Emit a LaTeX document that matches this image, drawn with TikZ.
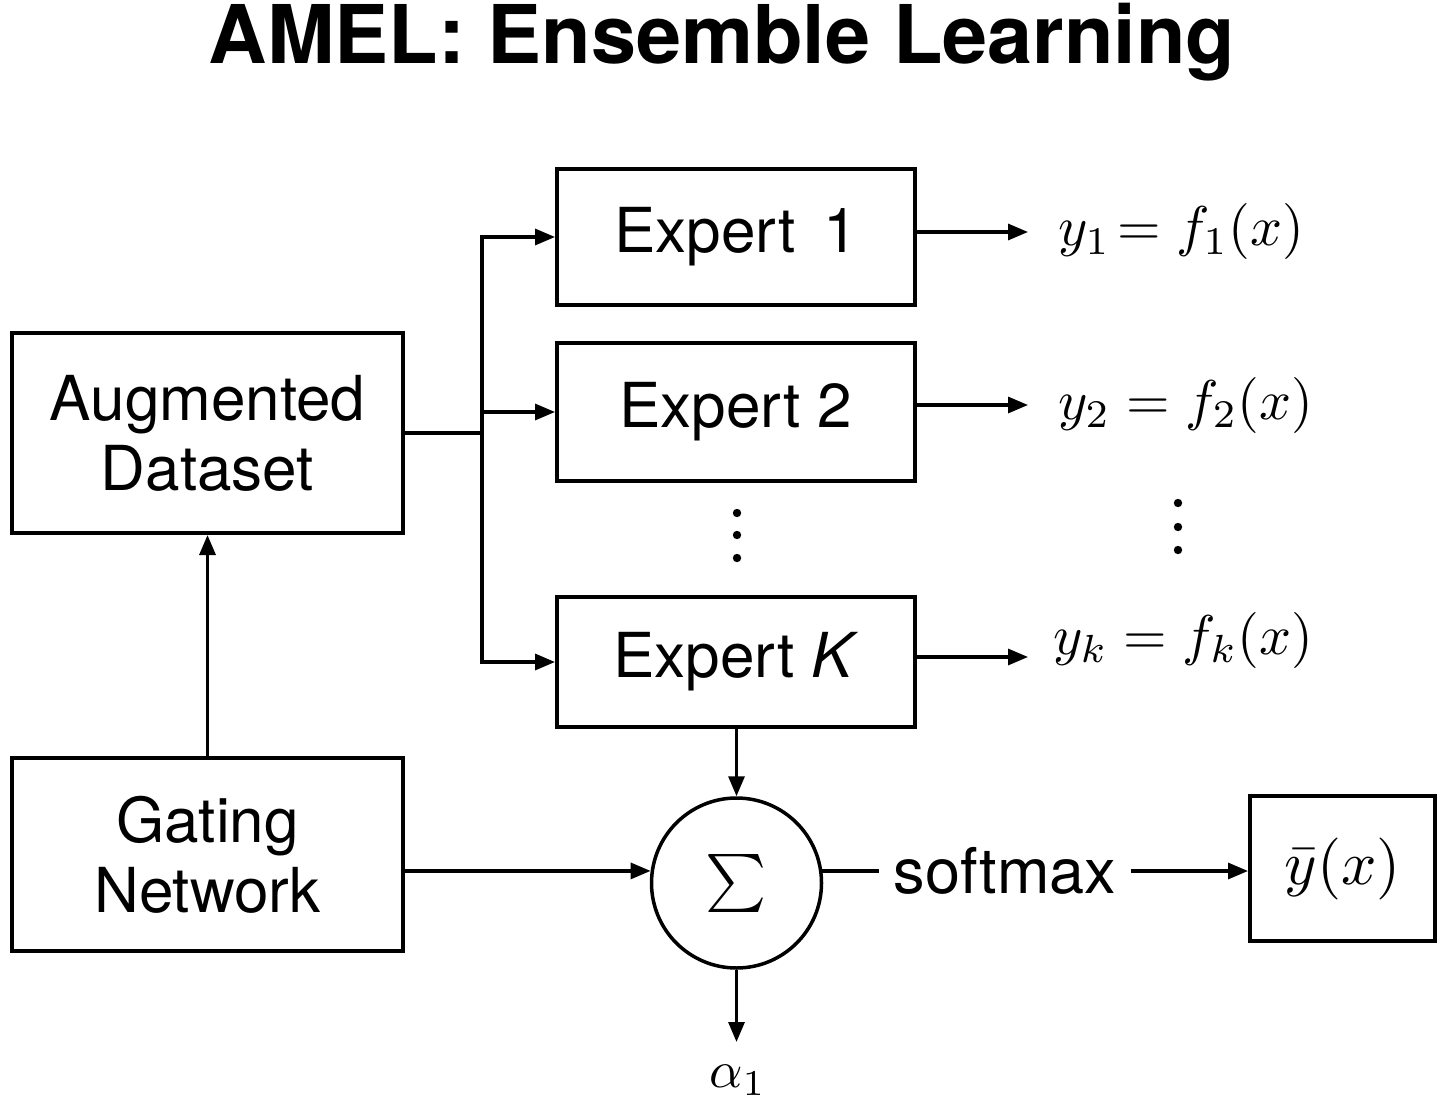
\documentclass[tikz,border=0pt]{standalone}
\usepackage[no-math]{fontspec}
\setmainfont{TeX Gyre Heros}
\usetikzlibrary{arrows.meta}
\newcommand{\mbig}[2]{\scalebox{#1}{$#2$}}
\begin{document}
\begin{tikzpicture}[x=1pt,y=-1pt,
  box/.style={draw, line width=4pt, inner sep=0pt, align=center,
    font=\fontsize{62}{70}\selectfont},
  arr/.style={line width=3.2pt, -{Triangle[length=20pt,width=16pt]}},
  ln/.style={line width=3.2pt},
  mlabel/.style={inner sep=0pt, font=\normalsize},
  dotm/.style={fill=black, draw=none}]
\useasboundingbox (0,0) rectangle (1447,1107);
\node[font=\fontsize{81}{90}\selectfont\bfseries] (title) at (722,42) {AMEL: Ensemble Learning};
\node[box, minimum width=391pt, minimum height=200pt] (aug) at (207.5,433) {Augmented\\Dataset};
\node[box, minimum width=391pt, minimum height=193pt] (gate) at (207.5,854.5) {Gating\\Network};
\node[box, minimum width=358pt, minimum height=136pt] (e1) at (736,237) {Expert\hspace{0.45em}1};
\node[box, minimum width=358pt, minimum height=138pt] (e2) at (736,412) {Expert 2};
\node[box, minimum width=358pt, minimum height=130pt] (eK) at (736,662) {Expert \textit{K}};
\node[draw, circle, line width=3.5pt, minimum size=170pt, inner sep=0pt, font=\normalsize] (sig) at (736.5,883) {\mbig{5.8}{\textstyle\sum}};
\node[box, minimum width=185pt, minimum height=145pt, font=\normalsize] (yb) at (1342.5,868.5)
  {\mbig{6.2}{\bar y(x)}};
\node[inner sep=15pt, font=\fontsize{63}{70}\selectfont] (sm) at (1005,871) {softmax};
\node[mlabel, anchor=west] (l1) at (1058,232) {\mbig{5.6}{y_1\!=f_1(x)}};
\node[mlabel, anchor=west] (l2) at (1058,405) {\mbig{5.6}{y_2=f_2(x)}};
\node[mlabel, anchor=west] (lk) at (1053,640) {\mbig{5.6}{y_k=f_k(x)}};
\node[mlabel] (al) at (738,1080) {\mbig{5.2}{\alpha_1}};
\coordinate (br) at (482,433);
\coordinate (o1) at (1028,232);
\coordinate (o2) at (1028,405);
\coordinate (ok) at (1028,657);
\coordinate (a1) at (736.5,1042);
% connectors
\draw[ln] (aug.east |- br) -- (br);
\draw[arr] (br) |- (e1.west);
\draw[arr] (br) |- (e2.west);
\draw[arr] (br) |- (eK.west);
\draw[arr] (e1.east |- o1) -- (o1);
\draw[arr] (e2.east |- o2) -- (o2);
\draw[arr] (eK.east |- ok) -- (ok);
\draw[arr] (gate.north) -- (aug.south);
\draw[arr] (eK.south -| sig.north) -- (sig.north);
\draw[arr] (gate.east |- sig.172) -- (sig.172);
\draw[ln] (sig.8) -- (sig.8 -| sm.west);
\draw[arr] (sm.east) -- (yb.west |- sm.east);
\draw[arr] (sig.south) -- (a1);
% dots
\foreach \yy in {513,535,558} \fill[dotm] (737,\yy) circle (4.2pt);
\foreach \yy in {503,527,550} \fill[dotm] (1178,\yy) circle (4.2pt);
\end{tikzpicture}
\end{document}
